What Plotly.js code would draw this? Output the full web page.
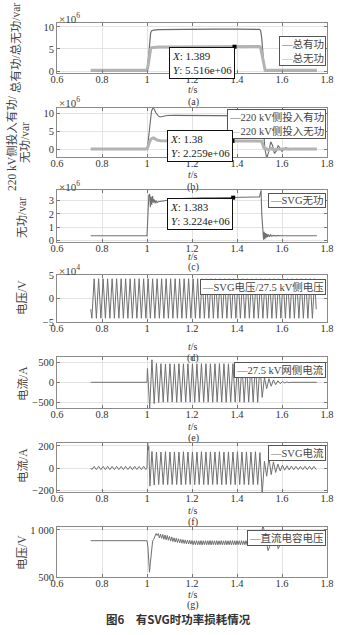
<!DOCTYPE html>
<html><head><meta charset="utf-8">
<script src="https://cdn.plot.ly/plotly-3.0.1.min.js"></script>
<style>html,body{margin:0;padding:0;background:#fff}#chart{width:348px;height:635px}</style>
</head><body><div id="chart"></div>
<script>
// ---------------- DATA ----------------
const xTickVals = [0.6, 0.8, 1.0, 1.2, 1.4, 1.6, 1.8];
const xTickText = ['0.6', '0.8', '1', '1.2', '1.4', '1.6', '1.8'];

// (a) total active / reactive power, units x10^6
const aActiveT = [0.75, 1.0, 1.004, 1.008, 1.012, 1.016, 1.02, 1.03, 1.05, 1.1, 1.2, 1.3, 1.4, 1.48, 1.5, 1.505, 1.51, 1.515, 1.52, 1.525, 1.6, 1.755];
const aActiveV = [0.05, 0.05, 1.5, 4.5, 7.0, 8.6, 9.1, 9.3, 9.4, 9.45, 9.5, 9.5, 9.5, 9.5, 9.45, 9.2, 7.5, 4.0, 1.0, 0.05, 0.05, 0.05];
const aReactT = [0.75, 1.0, 1.004, 1.008, 1.012, 1.016, 1.02, 1.03, 1.05, 1.1, 1.2, 1.3, 1.4, 1.5, 1.505, 1.51, 1.515, 1.52, 1.525, 1.6, 1.755];
const aReactV = [0.15, 0.15, 1.0, 2.6, 4.2, 5.0, 5.3, 5.4, 5.45, 5.48, 5.5, 5.51, 5.52, 5.55, 5.3, 4.0, 2.2, 0.6, 0.15, 0.15, 0.15];
const aTipX = [1.389], aTipY = [5.516];

// (b) 220 kV side active / reactive, units x10^6
const bActiveT = [0.75, 1.0, 1.005, 1.01, 1.015, 1.02, 1.027, 1.033, 1.04, 1.05, 1.058, 1.07, 1.09, 1.12, 1.2, 1.3, 1.4, 1.5, 1.512, 1.518, 1.524, 1.532, 1.54, 1.55, 1.558, 1.566, 1.575, 1.583, 1.592, 1.6, 1.608, 1.617, 1.625, 1.633, 1.642, 1.65, 1.665];
const bActiveV = [0, 0, 2.0, 5.5, 8.5, 10.5, 11.5, 11.0, 10.0, 9.2, 8.9, 9.1, 9.3, 9.35, 9.35, 9.35, 9.35, 9.35, 9.2, 5.0, 0.0, -2.5, -1.0, 2.0, 1.0, -1.2, -0.5, 1.0, 0.3, -0.6, 0.0, 0.4, 0.1, -0.2, 0.1, 0.0, 0.0];
const bReactT = [0.75, 1.0, 1.005, 1.01, 1.015, 1.02, 1.028, 1.035, 1.045, 1.06, 1.1, 1.2, 1.3, 1.4, 1.5, 1.51, 1.515, 1.52, 1.53, 1.54, 1.55, 1.56, 1.6, 1.755];
const bReactV = [0, 0, 0.8, 1.8, 2.5, 2.9, 3.1, 2.9, 2.5, 2.3, 2.25, 2.26, 2.26, 2.26, 2.28, 2.2, 1.2, 0.3, 0.1, -0.3, 0.2, -0.1, 0, 0];
const bTipX = [1.38], bTipY = [2.259];

// (c) SVG reactive, units x10^6
const cT = [0.75, 1.0, 1.003, 1.008, 1.012, 1.015, 1.018, 1.021, 1.025, 1.028, 1.032, 1.036, 1.04, 1.045, 1.05, 1.06, 1.08, 1.1, 1.12, 1.15, 1.2, 1.25, 1.3, 1.35, 1.4, 1.45, 1.5, 1.503, 1.507, 1.51, 1.515, 1.518, 1.521, 1.524, 1.527, 1.53, 1.533, 1.536, 1.54, 1.545, 1.55, 1.555, 1.56, 1.57, 1.58, 1.6, 1.755];
const cV = [0.35, 0.35, 1.5, 3.4, 3.5, 2.5, 3.3, 2.7, 3.35, 2.85, 3.1, 2.8, 3.0, 2.85, 2.92, 2.95, 3.0, 3.05, 3.1, 3.15, 3.2, 3.22, 3.22, 3.23, 3.23, 3.25, 3.28, 3.5, 3.78, 2.0, 0.2, 0.05, 0.65, 0.1, 0.55, 0.2, 0.5, 0.25, 0.45, 0.28, 0.42, 0.31, 0.38, 0.34, 0.36, 0.35, 0.35];
const cTipX = [1.383], cTipY = [3.224];

// (d) SVG voltage, units x10^4 : half-cycle extremes every 0.01 s from 0.755 s
const dEdgeT = [0.75, 1.752];
const dEdgeV = [-2.3, -2.3];
const dExt = [
 -4.2, 4.2, -4.2, 4.2, -4.2, 4.2, -4.2, 4.2, -4.2, 4.2,
 -4.2, 4.2, -4.2, 4.2, -4.2, 4.2, -4.2, 4.2, -4.2, 4.2,
 -4.2, 4.2, -4.2, 4.2, -4.2, 4.2, -4.2, 4.2, -4.2, 4.2,
 -4.2, 4.2, -4.2, 4.2, -4.2, 4.2, -4.2, 4.2, -4.2, 4.2,
 -4.2, 4.2, -4.2, 4.2, -4.2, 4.2, -4.2, 4.2, -4.2, 4.2,
 -4.2, 4.2, -4.2, 4.2, -4.2, 4.2, -4.2, 4.2, -4.2, 4.2,
 -4.2, 4.2, -4.2, 4.2, -4.2, 4.2, -4.2, 4.2, -4.2, 4.2,
 -4.2, 4.2, -4.2, 4.2, -4.2, 4.2, -4.2, 4.2, -4.2, 4.2,
 -4.2, 4.2, -4.2, 4.2, -4.2, 4.2, -4.2, 4.2, -4.2, 4.2,
 -4.2, 4.2, -4.2, 4.2, -4.2, 4.2, -4.2, 4.2, -4.2, 4.2];

// (e) 27.5 kV grid-side current (A)
const eFlatT = [0.75, 1.0], eFlatV = [0, 0];
const eExt = [ // extremes every 0.01 s from 1.002 s
 350, -660, 570, -540, 480, -510, 470, -505, 465, -500,
 470, -500, 465, -505, 470, -500, 468, -502, 470, -500,
 468, -505, 470, -500, 472, -502, 470, -500, 468, -505,
 470, -500, 472, -502, 470, -505, 468, -500, 470, -502,
 472, -500, 470, -505, 468, -500, 470, -502, 472, -505,
 470, -380, 120, -160, 90, -100, 60, -60, 40, -35,
 20, -18, 10, -8];
const eEndT = [1.64, 1.755], eEndV = [0, 0];

// (f) SVG current (A)
const fPre = [ // extremes every 0.01 s from 0.755 s
 -14, 14, -15, 15, -14, 14, -15, 15, -14, 14, -15, 15, -14, 14, -15, 15, -14, 14, -15, 15, -14, 14, -15, 15, -14];
const fTransT = [1.0, 1.003, 1.006, 1.008, 1.013];
const fTransV = [0, 230, 165, 195, -165];
const fMain = [ // extremes every 0.01 s from 1.022 s
 150, -155, 145, -150, 145, -150, 148, -152, 145, -150,
 146, -150, 145, -152, 148, -150, 145, -150, 146, -152,
 145, -150, 148, -150, 145, -152, 146, -150, 145, -150,
 148, -152, 145, -150, 146, -150, 145, -152, 148, -150,
 145, -150, 146, -152, 145, -150, 148, -150, 140, -235];
const fPost = [ // extremes every 0.01 s from 1.522 s
 60, -75, 95, -60, 55, -40, 35, -28, 25, -20, 20, -18, 17, -16, 15, -15, 15, -15, 15, -15, 15, -15, 15, -15];

// (g) DC capacitor voltage (V)
const gTransT = [0.75, 1.0, 1.004, 1.008, 1.011, 1.015, 1.02, 1.025, 1.03, 1.035, 1.04, 1.045];
const gTransV = [885, 885, 820, 600, 550, 650, 800, 880, 900, 930, 960, 940];
const gRipple = [ // extremes every 0.005 s from 1.05 s
 960, 915, 955, 910, 950, 900, 945, 895, 940, 890,
 930, 880, 925, 876, 915, 870, 910, 866, 905, 862,
 900, 858, 896, 855, 893, 852, 890, 850, 888, 848,
 886, 842, 884, 843, 885, 841, 883, 842, 886, 840,
 884, 843, 885, 841, 884, 842, 886, 840, 885, 843,
 884, 841, 885, 842, 883, 843, 886, 841, 884, 842,
 885, 840, 884, 843, 885, 841, 886, 842, 884, 840,
 885, 843, 884, 841, 886, 842, 883, 843, 885, 841,
 884, 842, 886, 840, 884, 843, 885, 841, 886, 842, 890];
const gPostT = [1.505, 1.51, 1.515, 1.52, 1.53, 1.538, 1.545, 1.555, 1.565, 1.575, 1.583, 1.59, 1.6, 1.61, 1.62, 1.63];
const gPostV = [900, 1000, 1050, 1000, 850, 780, 820, 920, 965, 900, 800, 830, 880, 900, 870, 880];

// y tick labels per panel
const yTicks = [
 {v: [0, 5, 10], t: ['0', '5', '10']},
 {v: [0, 5, 10], t: ['0', '5', '10']},
 {v: [0, 1, 2, 3], t: ['0', '1', '2', '3']},
 {v: [-5, 0, 5], t: ['\u22125', '0', '5']},
 {v: [-500, 0, 500], t: ['\u2212500', '0', '500']},
 {v: [-200, 0, 200], t: ['\u2212200', '0', '200']},
 {v: [500, 1000], t: ['500', '1 000']}
];
const legendTexts = [
 ['总有功', '总无功'], ['220 kV侧投入有功', '220 kV侧投入无功'], ['SVG无功'],
 ['SVG电压/27.5 kV侧电压'], ['27.5 kV网侧电流'], ['SVG电流'], ['直流电容电压']
];
const yTitles = ['总有功/总无功/var', '220 kV侧投入有功/|无功/var', '无功/var', '电压/V', '电流/A', '电流/A', '电压/V'];
const panelTags = ['(a)', '(b)', '(c)', '(d)', '(e)', '(f)', '(g)'];
const caption = '图6\u3000有SVG时功率损耗情况';

// ---------------- LAYOUT ----------------
const W = 348, H = 635;
const PX = p => p / W, PY = p => 1 - p / H;
const FONT = 'Liberation Serif, "Noto Sans CJK SC", serif';
const CJK = '"Liberation Serif", "Noto Sans CJK SC", sans-serif';
const TXT = '#333';
const DARK = '#6a6a6a', LIGHT = '#b3b3b3', MID = '#707070';

const boxes = [
 {top: 23, bot: 73, yr: [-0.45, 10.9]},
 {top: 108, bot: 157, yr: [-2.2, 11.4]},
 {top: 190, bot: 242, yr: [-0.12, 3.8]},
 {top: 275, bot: 322, yr: [-5, 5]},
 {top: 357, bot: 408, yr: [-650, 640]},
 {top: 443, bot: 492, yr: [-218, 227]},
 {top: 527, bot: 577, yr: [500, 1030]}
];
const XL = 57, XR = 327;

function seq(t0, step, n) { const a = []; for (let i = 0; i < n; i++) a.push(+(t0 + step * i).toFixed(4)); return a; }

const traces = [];
function ax(n) { return n === 1 ? '' : String(n); }
function addLine(n, x, y, color, width) {
  traces.push({type: 'scatter', mode: 'lines', x, y, xaxis: 'x' + ax(n), yaxis: 'y' + ax(n),
    line: {color, width}, hoverinfo: 'skip', showlegend: false});
}
function addTip(n, x, y) {
  traces.push({type: 'scatter', mode: 'markers', x, y, xaxis: 'x' + ax(n), yaxis: 'y' + ax(n),
    marker: {color: '#000', size: 4, symbol: 'square'}, hoverinfo: 'skip', showlegend: false});
}

addLine(1, aActiveT, aActiveV, DARK, 1.2);
addLine(1, aReactT, aReactV, LIGHT, 3);
addTip(1, aTipX, aTipY);
addLine(2, bActiveT, bActiveV, DARK, 1.1);
addLine(2, bReactT, bReactV, LIGHT, 3);
addTip(2, bTipX, bTipY);
addLine(3, cT, cV, MID, 1.1);
addTip(3, cTipX, cTipY);
addLine(4, [dEdgeT[0], ...seq(0.755, 0.01, dExt.length), dEdgeT[1]], [dEdgeV[0], ...dExt, dEdgeV[1]], MID, 1);
addLine(5, [...eFlatT, ...seq(1.002, 0.01, eExt.length), ...eEndT], [...eFlatV, ...eExt, ...eEndV], MID, 1);
addLine(6, [0.75, ...seq(0.755, 0.01, fPre.length), ...fTransT, ...seq(1.022, 0.01, fMain.length), ...seq(1.522, 0.01, fPost.length)],
           [0, ...fPre, ...fTransV, ...fMain, ...fPost], MID, 1);
addLine(7, [...gTransT, ...seq(1.05, 0.005, gRipple.length), ...gPostT], [...gTransV, ...gRipple, ...gPostV], MID, 1);

const layout = {
  width: W, height: H, margin: {l: 0, r: 0, t: 0, b: 0},
  paper_bgcolor: '#fff', plot_bgcolor: '#fff', showlegend: false, hovermode: false,
  font: {family: FONT, size: 10, color: TXT},
  annotations: []
};
const legendColors = [[DARK, LIGHT], [DARK, LIGHT], [MID], [MID], [MID], [MID], [MID]];
const legendY = [51, 123.5, 201, 287, 369.5, 452.5, 537.5];
const tagsY = [[89.5, 101.5], [174.5, 186.5], [256, 267.5], [346, 357.5], [426, 437.5], [510, 521.5], [594, 605]];
const expY = [18, 102, 186, 270];
const expTxt = ['×10<sup>6</sup>', '×10<sup>6</sup>', '×10<sup>6</sup>', '×10<sup>4</sup>'];
const yTitleY = [48, 143, 218, 298, 384, 466, 553];

boxes.forEach((b, i) => {
  const n = i + 1;
  layout['xaxis' + ax(n)] = {
    domain: [PX(XL), PX(XR)], anchor: 'y' + ax(n), range: [0.6, 1.8],
    tickvals: xTickVals, ticktext: xTickText, ticks: 'inside', ticklen: 3, tickcolor: '#777',
    ticklabelstandoff: -4,
    showline: true, linecolor: '#8a8a8a', linewidth: 1, mirror: 'ticks',
    showgrid: true, gridcolor: '#e3e3e3', gridwidth: 1, zeroline: false,
    tickfont: {family: FONT, size: 10.5, color: TXT}, fixedrange: true
  };
  layout['yaxis' + ax(n)] = {
    domain: [PY(b.bot), PY(b.top)], anchor: 'x' + ax(n), range: b.yr,
    tickvals: yTicks[i].v, ticktext: yTicks[i].t, ticks: 'inside', ticklen: 3, tickcolor: '#777',
    showline: true, linecolor: '#8a8a8a', linewidth: 1, mirror: 'ticks',
    showgrid: true, gridcolor: '#e3e3e3', gridwidth: 1, zeroline: false,
    tickfont: {family: FONT, size: 10.5, color: TXT}, fixedrange: true
  };
  const lines = legendTexts[i].map((t, k) => '<span style="color:' + legendColors[i][k] + '">—</span>' + t);
  layout.annotations.push({xref: 'paper', yref: 'paper', x: PX(326), y: PY(legendY[i]), xanchor: 'right', yanchor: 'middle',
    text: lines.join('<br>'), showarrow: false, align: 'left', bgcolor: '#fff', bordercolor: '#555', borderwidth: 1, borderpad: 1,
    font: {family: CJK, size: 10.5, color: '#444'}});
  layout.annotations.push({xref: 'paper', yref: 'paper', x: PX(193), y: PY(tagsY[i][0]), xanchor: 'center', yanchor: 'middle',
    text: '<i>t</i>/s', showarrow: false, font: {family: FONT, size: 10, color: TXT}});
  layout.annotations.push({xref: 'paper', yref: 'paper', x: PX(193), y: PY(tagsY[i][1]), xanchor: 'center', yanchor: 'middle',
    text: panelTags[i], showarrow: false, font: {family: FONT, size: 10, color: TXT}});
  const parts = yTitles[i].split('|');
  if (parts.length === 1) {
    layout.annotations.push({xref: 'paper', yref: 'paper', x: PX(i === 0 ? 15 : 22), y: PY(yTitleY[i]), xanchor: 'center', yanchor: 'middle',
      text: parts[0], textangle: -90, showarrow: false, font: {family: CJK, size: 11.5, color: '#444'}});
  } else {
    layout.annotations.push({xref: 'paper', yref: 'paper', x: PX(12), y: PY(yTitleY[i]), xanchor: 'center', yanchor: 'middle',
      text: parts[0], textangle: -90, showarrow: false, font: {family: CJK, size: 11.5, color: '#444'}});
    layout.annotations.push({xref: 'paper', yref: 'paper', x: PX(25), y: PY(yTitleY[i]), xanchor: 'center', yanchor: 'middle',
      text: parts[1], textangle: -90, showarrow: false, font: {family: CJK, size: 11.5, color: '#444'}});
  }
  if (i < 4) {
    layout.annotations.push({xref: 'paper', yref: 'paper', x: PX(57), y: PY(expY[i]), xanchor: 'left', yanchor: 'middle',
      text: expTxt[i], showarrow: false, font: {family: FONT, size: 11, color: '#444'}});
  }
});
const tips = [[1, aTipX[0], aTipY[0], '1.389', '5.516e+06', 0], [2, bTipX[0], bTipY[0], '1.38', '2.259e+06', 11], [3, cTipX[0], cTipY[0], '1.383', '3.224e+06', 0]];
tips.forEach(([n, x, y, xs, ys, sh]) => {
  layout.annotations.push({xref: 'x' + ax(n), yref: 'y' + ax(n), x, y, xanchor: 'right', yanchor: 'top', yshift: sh,
    text: '<i>X</i>: ' + xs + '<br><i>Y</i>: ' + ys, showarrow: false, align: 'left', bgcolor: '#fff',
    bordercolor: '#111', borderwidth: 1, borderpad: 2, font: {family: FONT, size: 11, color: '#222'}});
});
layout.annotations.push({xref: 'paper', yref: 'paper', x: PX(178), y: PY(619), xanchor: 'center', yanchor: 'middle',
  text: '<b>' + caption + '</b>', showarrow: false, font: {family: '"Noto Sans CJK SC", sans-serif', size: 11.5, color: '#333'}});

Plotly.newPlot('chart', traces, layout, {staticPlot: true, displayModeBar: false});
</script></body></html>
